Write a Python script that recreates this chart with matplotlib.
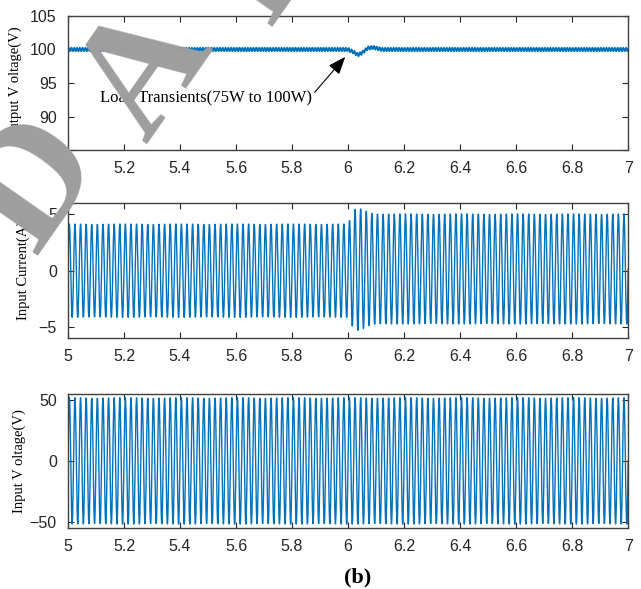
"""Load transient waveforms: output voltage, input current, input voltage (panel b)."""

import matplotlib.pyplot as plt
import numpy as np

# --------------------------------------------------------------------------
# Values
# --------------------------------------------------------------------------
t_start, t_end = 5.0, 7.0
line_freq = 50.0          # Hz, mains frequency (≈5.6 px per cycle in the picture)
sample_rate = 1005.0      # logging rate of the simulated waveforms

# output voltage: slow envelope (s, V) and 100 Hz ripple amplitude
vout_t = [5.0, 6.00, 6.02, 6.035, 6.05, 6.07, 6.09, 6.12, 7.0]
vout_v = [100.0, 100.0, 99.6, 99.2, 99.5, 100.2, 100.3, 100.0, 100.0]
vout_ripple = 0.25

# input current: peak envelope (s, A) and dc offset
iin_t = [5.0, 6.0, 6.02, 6.04, 6.08, 6.12, 7.0]
iin_amp = [4.15, 4.15, 5.3, 5.45, 5.0, 4.9, 4.9]
iin_off = [0.0, 0.0, 0.1, 0.1, 0.15, 0.15, 0.15]

# input voltage: constant peak
vin_amp = 52.0

x_ticks = [5, 5.2, 5.4, 5.6, 5.8, 6, 6.2, 6.4, 6.6, 6.8, 7]
x_ticklabels = ["5", "5.2", "5.4", "5.6", "5.8", "6", "6.2", "6.4", "6.6", "6.8", "7"]

BLUE = "#0072BD"
SERIF = ["Liberation Serif", "DejaVu Serif"]
SANS = ["Liberation Sans", "DejaVu Sans"]

t_fine = np.arange(t_start, t_end + 1e-9, 1.0 / 4000.0)
t = np.arange(t_start, t_end + 1e-9, 1.0 / sample_rate)
carrier = np.sin(2 * np.pi * line_freq * t)

v_out = np.interp(t_fine, vout_t, vout_v) + vout_ripple * np.sin(2 * np.pi * 2 * line_freq * t_fine)
i_in = np.interp(t, iin_t, iin_off) + np.interp(t, iin_t, iin_amp) * carrier
v_in = vin_amp * carrier

plt.rcParams["font.family"] = SANS

fig = plt.figure(figsize=(6.41, 5.89), dpi=100)
ax1 = fig.add_axes([0.106, 0.745, 0.874, 0.228])
ax2 = fig.add_axes([0.106, 0.426, 0.874, 0.229])
ax3 = fig.add_axes([0.106, 0.104, 0.874, 0.227])


def style(ax, ylim, yticks, ylabel, label_x):
    ax.set_xlim(t_start, t_end)
    ax.set_ylim(*ylim)
    ax.set_xticks(x_ticks)
    ax.set_xticklabels(x_ticklabels)
    ax.set_yticks(yticks)
    ax.tick_params(direction="in", length=4, width=0.8, top=True, right=True,
                   labelsize=11.5, pad=8, colors="#262626")
    for s in ax.spines.values():
        s.set_color("#404040")
        s.set_linewidth(1.0)
    ax.set_ylabel(ylabel, family=SERIF, fontsize=10.5)
    ax.yaxis.set_label_coords(label_x, 0.5)


ax1.plot(t_fine, v_out, color=BLUE, lw=1.3)
style(ax1, (85, 105), [85, 90, 95, 100, 105], "Output V oltage(V)", -0.082)
ax1.annotate("Load Transients(75W to 100W)", xy=(5.99, 98.9), xytext=(5.114, 92.9),
             family=SERIF, fontsize=12, va="center", ha="left",
             arrowprops=dict(arrowstyle="-|>,head_length=0.9,head_width=0.35",
                             color="black", lw=0.8, shrinkA=0, shrinkB=0,
                             relpos=(1.0, 0.6)))

ax2.plot(t, i_in, color=BLUE, lw=1.0)
style(ax2, (-6, 6), [-5, 0, 5], "Input Current(A)", -0.068)

ax3.plot(t, v_in, color=BLUE, lw=1.0)
style(ax3, (-55, 55), [-50, 0, 50], "Input V oltage(V)", -0.075)

fig.text(0.558, 0.02, "(b)", family=SERIF, fontsize=16, fontweight="bold",
         ha="center", va="center")

# grey watermark letters
for ch, x, y in [("D", 0.058, 0.685), ("A", 0.23, 0.875), ("F", 0.415, 1.06)]:
    fig.text(x, y, ch, family=SERIF, fontsize=118, fontweight="bold", color="#9e9e9e",
             rotation=55, ha="center", va="center", zorder=10)

fig.savefig("out.png", dpi=100)
